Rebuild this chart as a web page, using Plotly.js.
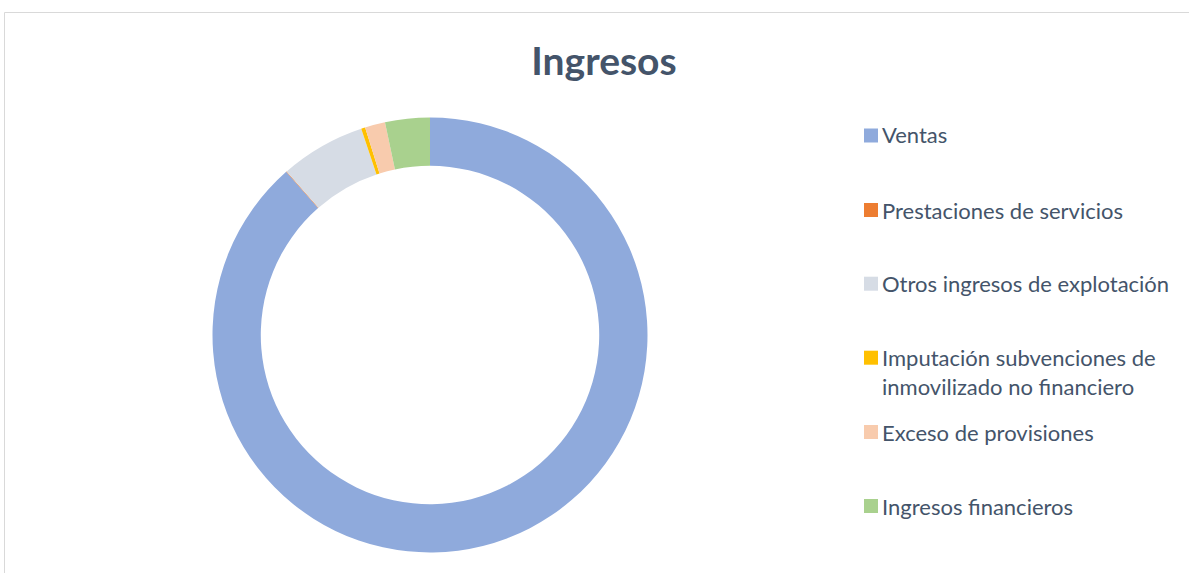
<!DOCTYPE html>
<html>
<head>
<meta charset="utf-8">
<script src="https://cdn.plot.ly/plotly-3.0.1.min.js"></script>
<style>
html,body{margin:0;padding:0;background:#fff;}
#chart{width:1189px;height:573px;}
</style>
</head>
<body>
<div id="chart"></div>
<script>
// Data (estimated shares, %)
const categories = [
  "Ventas",
  "Prestaciones de servicios",
  "Otros ingresos de explotación",
  "Imputación subvenciones de inmovilizado no financiero",
  "Exceso de provisiones",
  "Ingresos financieros"
];
const legendText = [
  "Ventas",
  "Prestaciones de servicios",
  "Otros ingresos de explotación",
  "Imputación subvenciones de<br>inmovilizado no financiero",
  "Exceso de provisiones",
  "Ingresos financieros"
];
const values = [88.5, 0.05, 6.33, 0.3, 1.5, 3.32];
const colors = ["#8FAADC", "#ED7D31", "#D6DCE5", "#FFC000", "#F8CBAD", "#A9D18E"];

const W = 1189, H = 573;
const px = x => x / W;
const py = y => 1 - y / H;

const textColor = "#44546A";
const font = "Lato, 'Open Sans', sans-serif";

// legend row centres (pixels)
const legendY = [135, 210, 284, 372, 432, 506];

const annotations = categories.map((c, i) => ({
  xref: "paper", yref: "paper",
  x: px(880), y: py(legendY[i]),
  xanchor: "left", yanchor: "middle",
  text: legendText[i], showarrow: false, align: "left",
  font: {family: font, size: 22, color: textColor}
}));

const markerY = [135.5, 210, 283.7, 357.7, 432, 506];
const shapes = categories.map((c, i) => ({
  type: "rect", xref: "paper", yref: "paper",
  x0: px(864), x1: px(878), y0: py(markerY[i] + 7), y1: py(markerY[i] - 7),
  fillcolor: colors[i], line: {width: 0}
}));
// chart frame
shapes.push({
  type: "path", xref: "paper", yref: "paper",
  path: `M ${px(4.5)},${py(573)} L ${px(4.5)},${py(12.5)} L ${px(1189)},${py(12.5)}`,
  line: {color: "#D9D9D9", width: 1}
});

const trace = {
  type: "pie",
  labels: categories,
  values: values,
  sort: false,
  direction: "clockwise",
  rotation: 0,
  hole: 0.778,
  textinfo: "none",
  marker: {colors: colors, line: {width: 0}},
  domain: {x: [px(212.5), px(647.5)], y: [py(552.5), py(117.5)]},
  showlegend: false,
  hoverinfo: "label+percent"
};

const layout = {
  width: W, height: H,
  margin: {l: 0, r: 0, t: 0, b: 0},
  paper_bgcolor: "#ffffff",
  showlegend: false,
  title: {
    text: "<b>Ingresos</b>",
    x: px(604), xanchor: "center",
    y: py(61), yanchor: "middle",
    xref: "paper", yref: "paper",
    font: {family: font, size: 39, color: textColor}
  },
  annotations: annotations,
  shapes: shapes
};

Plotly.newPlot("chart", [trace], layout, {displayModeBar: false, staticPlot: true});
</script>
</body>
</html>
